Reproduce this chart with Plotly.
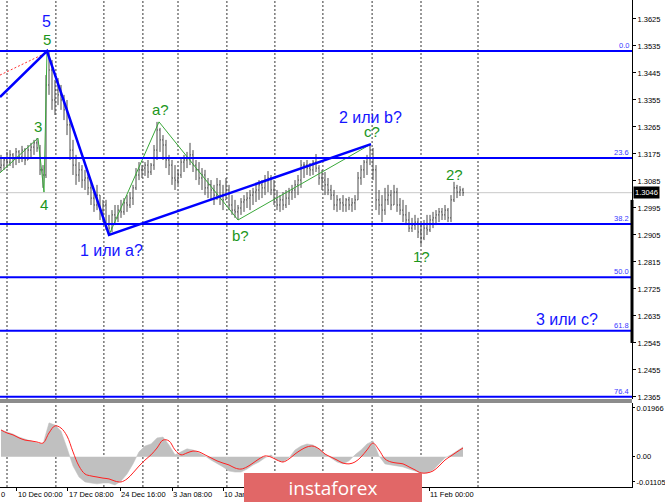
import plotly.graph_objects as go

# ---------------- price bars (one bar per slot) ----------------
bar_high = [1.3172, 1.3165, 1.3182, 1.3188, 1.3178, 1.3195, 1.3188, 1.3202, 1.3195, 1.3205,
            1.3212, 1.3222, 1.3228, 1.3205, 1.3138, 1.3438, 1.3518, 1.3488, 1.3422, 1.3428,
            1.3405, 1.3372, 1.3355, 1.3288, 1.3222, 1.3172, 1.3148, 1.3138, 1.3122, 1.3115,
            1.3088, 1.3055, 1.3072, 1.3038, 1.3022, 1.3022, 1.2972, 1.2988, 1.3005, 1.3005,
            1.3022, 1.3028, 1.3038, 1.3048, 1.3072, 1.3128, 1.3148, 1.3138, 1.3148, 1.3155,
            1.3145, 1.3205, 1.3282, 1.3262, 1.3238, 1.3222, 1.3172, 1.3155, 1.3138, 1.3122,
            1.3162, 1.3172, 1.3182, 1.3212, 1.3188, 1.3155, 1.3148, 1.3128, 1.3122, 1.3095,
            1.3088, 1.3072, 1.3095, 1.3088, 1.3072, 1.3095, 1.3072, 1.3038, 1.3022, 1.3005,
            1.3028, 1.3038, 1.3048, 1.3055, 1.3062, 1.3072, 1.3088, 1.3088, 1.3105, 1.3118,
            1.3105, 1.3088, 1.3055, 1.3038, 1.3048, 1.3055, 1.3062, 1.3072, 1.3088, 1.3105,
            1.3155, 1.3148, 1.3155, 1.3145, 1.3155, 1.3175, 1.3138, 1.3122, 1.3115, 1.3095,
            1.3072, 1.3055, 1.3038, 1.3028, 1.3038, 1.3028, 1.3032, 1.3028, 1.3038, 1.3115,
            1.3138, 1.3155, 1.3172, 1.3208, 1.3195, 1.3138, 1.3055, 1.3038, 1.3062, 1.3072,
            1.3055, 1.3072, 1.3062, 1.3028, 1.3022, 1.3005, 1.2982, 1.2962, 1.2972, 1.2962,
            1.2938, 1.2955, 1.2972, 1.2972, 1.2982, 1.2988, 1.2995, 1.2995, 1.3005, 1.2995,
            1.3038, 1.3082, 1.3072, 1.3068, 1.3062]
bar_low = [1.3115, 1.3122, 1.3128, 1.3135, 1.3128, 1.3138, 1.3145, 1.3148, 1.3138, 1.3155,
           1.3162, 1.3172, 1.3182, 1.3105, 1.3062, 1.3095, 1.3372, 1.3322, 1.3305, 1.3338,
           1.3322, 1.3288, 1.3238, 1.3155, 1.3105, 1.3072, 1.3082, 1.3062, 1.3055, 1.3038,
           1.3005, 1.2982, 1.2988, 1.2955, 1.2948, 1.2922, 1.2905, 1.2915, 1.2938, 1.2948,
           1.2962, 1.2972, 1.2982, 1.2995, 1.3005, 1.3055, 1.3088, 1.3095, 1.3102, 1.3095,
           1.3105, 1.3122, 1.3155, 1.3182, 1.3155, 1.3128, 1.3105, 1.3072, 1.3055, 1.3072,
           1.3095, 1.3115, 1.3128, 1.3138, 1.3115, 1.3088, 1.3072, 1.3055, 1.3038, 1.3028,
           1.3022, 1.3005, 1.3022, 1.3005, 1.2988, 1.3022, 1.2988, 1.2972, 1.2962, 1.2955,
           1.2972, 1.2982, 1.2995, 1.2988, 1.3005, 1.3015, 1.3022, 1.3028, 1.3038, 1.3048,
           1.3038, 1.3005, 1.2988, 1.2982, 1.2988, 1.2995, 1.3005, 1.3022, 1.3028, 1.3038,
           1.3062, 1.3095, 1.3105, 1.3102, 1.3105, 1.3115, 1.3072, 1.3055, 1.3038, 1.3038,
           1.3022, 1.2988, 1.2982, 1.2988, 1.2982, 1.2982, 1.2988, 1.2982, 1.2988, 1.3022,
           1.3072, 1.3095, 1.3105, 1.3138, 1.3088, 1.2988, 1.2972, 1.2948, 1.2972, 1.3005,
           1.2988, 1.3005, 1.2982, 1.2972, 1.2948, 1.2938, 1.2915, 1.2915, 1.2922, 1.2895,
           1.2872, 1.2888, 1.2905, 1.2915, 1.2928, 1.2938, 1.2948, 1.2955, 1.2955, 1.2948,
           1.2948, 1.3015, 1.3028, 1.3035, 1.3035]
bar_close = [1.3138, 1.3155, 1.3148, 1.3172, 1.3162, 1.3182, 1.3165, 1.3188, 1.3155, 1.3188,
             1.3198, 1.3212, 1.3195, 1.3122, 1.3105, 1.3405, 1.3455, 1.3355, 1.3388, 1.3372,
             1.3355, 1.3322, 1.3272, 1.3188, 1.3138, 1.3105, 1.3122, 1.3088, 1.3095, 1.3062,
             1.3028, 1.3005, 1.3038, 1.2988, 1.3005, 1.2938, 1.2928, 1.2972, 1.2962, 1.2988,
             1.2982, 1.3012, 1.3005, 1.3028, 1.3062, 1.3105, 1.3122, 1.3128, 1.3138, 1.3115,
             1.3138, 1.3188, 1.3255, 1.3222, 1.3205, 1.3155, 1.3138, 1.3095, 1.3088, 1.3105,
             1.3148, 1.3155, 1.3162, 1.3172, 1.3138, 1.3122, 1.3095, 1.3105, 1.3062, 1.3072,
             1.3055, 1.3038, 1.3072, 1.3038, 1.3022, 1.3055, 1.3005, 1.2988, 1.2982, 1.2995,
             1.3015, 1.3022, 1.3028, 1.3038, 1.3048, 1.3055, 1.3072, 1.3062, 1.3088, 1.3095,
             1.3055, 1.3022, 1.3005, 1.3022, 1.3005, 1.3028, 1.3048, 1.3055, 1.3072, 1.3088,
             1.3138, 1.3138, 1.3128, 1.3122, 1.3148, 1.3128, 1.3095, 1.3088, 1.3072, 1.3055,
             1.3038, 1.3005, 1.3022, 1.3012, 1.3005, 1.3022, 1.3005, 1.3012, 1.3022, 1.3095,
             1.3122, 1.3148, 1.3162, 1.3188, 1.3122, 1.3022, 1.3005, 1.2988, 1.3022, 1.3038,
             1.3005, 1.3048, 1.3005, 1.2988, 1.2972, 1.2955, 1.2928, 1.2938, 1.2948, 1.2915,
             1.2895, 1.2928, 1.2922, 1.2955, 1.2962, 1.2972, 1.2982, 1.2972, 1.2988, 1.2962,
             1.3022, 1.3062, 1.3048, 1.3055, 1.3046]
first_open = 1.3130
bar_open = [first_open] + bar_close[:-1]
bar_idx = list(range(len(bar_close)))

# ---------------- oscillator (every second slot) ----------------
osc_idx = list(range(0, 155, 2))
osc_hist = [0.0098, 0.0091, 0.0083, 0.0072, 0.0065, 0.0058, 0.0050, 0.0047, 0.0124, 0.0116,
            0.0094, 0.0032, -0.0034, -0.0074, -0.0092, -0.0096, -0.0099, -0.0096, -0.0096, -0.0103,
            -0.0089, -0.0063, -0.0026, 0.0018, 0.0039, 0.0047, 0.0069, 0.0072, 0.0043, 0.0007,
            0.0018, 0.0029, 0.0025, 0.0014, 0.0003, -0.0012, -0.0023, -0.0037, -0.0052, -0.0056,
            -0.0056, -0.0045, -0.0030, -0.0019, -0.0004, 0.0007, -0.0012, -0.0019, -0.0004, 0.0025,
            0.0039, 0.0047, 0.0043, 0.0029, 0.0010, -0.0004, -0.0019, -0.0026, -0.0015, 0.0007,
            0.0025, 0.0047, 0.0058, 0.0003, -0.0026, -0.0030, -0.0034, -0.0037, -0.0045, -0.0052,
            -0.0059, -0.0059, -0.0048, -0.0026, -0.0004, 0.0007, 0.0021, 0.0036]
osc_signal = [0.0098, 0.0087, 0.0080, 0.0069, 0.0061, 0.0058, 0.0054, 0.0050, 0.0087, 0.0113,
              0.0105, 0.0076, 0.0018, -0.0034, -0.0063, -0.0070, -0.0074, -0.0078, -0.0081, -0.0089,
              -0.0092, -0.0081, -0.0059, -0.0034, -0.0012, 0.0007, 0.0032, 0.0061, 0.0058, 0.0025,
              0.0007, 0.0014, 0.0021, 0.0018, 0.0007, -0.0004, -0.0015, -0.0023, -0.0030, -0.0041,
              -0.0045, -0.0037, -0.0023, -0.0008, 0.0003, -0.0001, -0.0012, -0.0019, -0.0008, 0.0010,
              0.0025, 0.0036, 0.0039, 0.0029, 0.0010, -0.0001, -0.0012, -0.0023, -0.0026, -0.0019,
              -0.0001, 0.0025, 0.0050, 0.0025, -0.0008, -0.0019, -0.0023, -0.0026, -0.0037, -0.0048,
              -0.0059, -0.0059, -0.0052, -0.0034, -0.0012, 0.0003, 0.0018, 0.0032]
osc_range = [-0.01105, 0.01966]
osc_tick_vals = [0.01784, 0.0, -0.00921]
osc_tick_text = ["0.01966", "0.00", "-0.01105"]

# ---------------- axes ----------------
price_ticks = [1.3625, 1.3535, 1.3445, 1.3355, 1.3265, 1.3175, 1.3085, 1.2995,
               1.2905, 1.2815, 1.2725, 1.2635, 1.2545, 1.2455, 1.2365]
price_range = [1.23583, 1.36883]
time_tick_idx = [5.3, 22.3, 39.7, 57, 74, 91.3, 108.3, 125.7, 142.7]
time_tick_text = ["10 Dec 00:00", "17 Dec 08:00", "24 Dec 16:00", "3 Jan 08:00", "10 Jan 16:00",
                  "18 Jan 00:00", "25 Jan 08:00", "1 Feb 16:00", "11 Feb 00:00"]
grid_idx = [2, 18.3, 34.3, 47.3, 59, 75.3, 91.3, 107.3, 123.7, 140, 159]

# ---------------- Fibonacci levels ----------------
fib_names = ["0.0", "23.6", "38.2", "50.0", "61.8", "76.4"]
fib_prices = [1.3518, 1.3162, 1.2942, 1.2764, 1.2586, 1.2366]

# ---------------- wave markup ----------------
blue_wave_x = [-0.33, 15.33, 36, 123.33]
blue_wave_y = [1.3365, 1.3518, 1.2905, 1.3208]
green_wave1_x = [-0.33, 12.33, 14.33, 15.33]
green_wave1_y = [1.3112, 1.3228, 1.3048, 1.3518]
green_wave2_x = [36, 52.67, 79, 123.33]
green_wave2_y = [1.2905, 1.3282, 1.2955, 1.3208]
red_dot_x = [-0.33, 15]
red_dot_y = [1.3438, 1.3512]

blue_labels = ["5", "1 или a?", "2 или b?", "3 или c?"]
blue_label_x = [15.33, 36.67, 123, 188.67]
blue_label_y = [1.3615, 1.2852, 1.3298, 1.2622]
green_labels = ["5", "3", "4", "a?", "b?", "c?", "1?", "2?"]
green_label_x = [15.33, 12.33, 14.33, 53, 79.67, 123.67, 140.33, 151]
green_label_y = [1.3555, 1.3265, 1.3008, 1.3322, 1.2902, 1.3250, 1.2832, 1.3108]

# ---------------- figure ----------------
BLUE = "#0000ff"
GREEN_LINE = "#3aa83a"
GREEN_TXT = "#1c961c"
FONT = "Liberation Sans"
MAIN_DOM = [0.1807, 1.0]
OSC_DOM = [0.0, 0.1725]

fig = go.Figure()

fig.add_trace(go.Ohlc(
    x=bar_idx, open=bar_open, high=bar_high, low=bar_low, close=bar_close,
    increasing=dict(line=dict(color="#484848", width=1)),
    decreasing=dict(line=dict(color="#484848", width=1)),
    tickwidth=0.3, hoverinfo="skip", showlegend=False, xaxis="x", yaxis="y"))

fig.add_trace(go.Scatter(x=red_dot_x, y=red_dot_y, mode="lines",
                         line=dict(color="#ff3030", width=1, dash="2px,2px"),
                         hoverinfo="skip", showlegend=False))
fig.add_trace(go.Scatter(x=green_wave1_x, y=green_wave1_y, mode="lines",
                         line=dict(color=GREEN_LINE, width=1), hoverinfo="skip", showlegend=False))
fig.add_trace(go.Scatter(x=green_wave2_x, y=green_wave2_y, mode="lines",
                         line=dict(color=GREEN_LINE, width=1), hoverinfo="skip", showlegend=False))
fig.add_trace(go.Scatter(x=blue_wave_x, y=blue_wave_y, mode="lines",
                         line=dict(color=BLUE, width=2.5), hoverinfo="skip", showlegend=False))

fig.add_trace(go.Scatter(x=osc_idx, y=osc_hist, mode="lines", fill="tozeroy",
                         fillcolor="#c0c0c0", line=dict(color="#c0c0c0", width=0.5),
                         hoverinfo="skip", showlegend=False, xaxis="x", yaxis="y2"))
fig.add_trace(go.Scatter(x=osc_idx, y=osc_signal, mode="lines",
                         line=dict(color="#ff2020", width=1, shape="spline"),
                         hoverinfo="skip", showlegend=False, xaxis="x", yaxis="y2"))

shapes = []
for gx in grid_idx:
    shapes.append(dict(type="line", xref="x", yref="paper", x0=gx, x1=gx, y0=0, y1=1,
                       line=dict(color="#333333", width=1, dash="2px,2px"), layer="below"))
shapes.append(dict(type="line", xref="paper", yref="y", x0=0, x1=1,
                   y0=bar_close[-1], y1=bar_close[-1],
                   line=dict(color="#c8c8c8", width=1), layer="below"))
for p in fib_prices:
    shapes.append(dict(type="line", xref="paper", yref="y", x0=0, x1=1, y0=p, y1=p,
                       line=dict(color=BLUE, width=2)))
# panel separator
shapes.append(dict(type="rect", xref="paper", yref="paper", x0=0, x1=1.0,
                   y0=OSC_DOM[1], y1=MAIN_DOM[0], fillcolor="#8c8c8c", line=dict(width=0)))
# thick segment on the price scale
shapes.append(dict(type="line", xref="paper", yref="y", x0=1, x1=1, y0=1.3022, y1=1.2545,
                   line=dict(color="black", width=3)))

annotations = []
# time labels (left-aligned at their tick, MT4 style)
for t, x in zip(time_tick_text, time_tick_idx):
    annotations.append(dict(x=x, xref="x", y=0, yref="paper", text=t, showarrow=False,
                            xanchor="left", yanchor="top", xshift=-1, yshift=-1,
                            font=dict(family=FONT, size=7.5, color="black")))
annotations.append(dict(x=0, xref="paper", y=0, yref="paper", text="0", showarrow=False,
                        xanchor="left", yanchor="top", xshift=-1, yshift=-1,
                        font=dict(family=FONT, size=7.5, color="black")))
for name, p in zip(fib_names, fib_prices):
    annotations.append(dict(x=1, xref="paper", y=p, yref="y", text=name, showarrow=False,
                            xanchor="right", yanchor="bottom", xshift=-1, yshift=-1,
                            font=dict(family=FONT, size=7.5, color="#3a3aff")))
for t, x, y in zip(blue_labels, blue_label_x, blue_label_y):
    annotations.append(dict(x=x, y=y, xref="x", yref="y", text=t, showarrow=False,
                            font=dict(family=FONT, size=16, color="#1414ff")))
for t, x, y in zip(green_labels, green_label_x, green_label_y):
    annotations.append(dict(x=x, y=y, xref="x", yref="y", text=t, showarrow=False,
                            font=dict(family=FONT, size=15, color=GREEN_TXT)))
annotations.append(dict(x=1, xref="paper", y=bar_close[-1], yref="y",
                        text=f"{bar_close[-1]:.4f}", showarrow=False, xanchor="left", xshift=1,
                        bgcolor="black", borderpad=1,
                        font=dict(family=FONT, size=7.5, color="white")))
# watermark logo on top of everything
annotations.append(dict(x=333/632, xref="paper", y=-0.5/487, yref="paper", text="instaforex",
                        showarrow=False, xanchor="center", yanchor="middle",
                        width=176, height=27, borderpad=1,
                        bgcolor="#e16767", bordercolor="#d86060", borderwidth=0,
                        font=dict(family="Open Sans", size=19, color="white")))

fig.update_layout(
    template="none",
    width=665, height=504,
    margin=dict(l=0, r=33, t=0, b=17),
    paper_bgcolor="white", plot_bgcolor="white",
    showlegend=False,
    shapes=shapes,
    annotations=annotations,
    xaxis=dict(range=[-1/3, 631/3], anchor="y2", showgrid=False, zeroline=False,
               showline=True, linecolor="black", linewidth=1,
               tickmode="array", tickvals=time_tick_idx, showticklabels=False,
               ticks="outside", ticklen=3, tickcolor="black",
               rangeslider=dict(visible=False), fixedrange=True),
    yaxis=dict(domain=MAIN_DOM, range=price_range, side="right", anchor="x",
               showgrid=False, zeroline=False, showline=True, linecolor="black", linewidth=1,
               tickmode="array", tickvals=price_ticks, ticktext=[f"{v:.4f}" for v in price_ticks],
               ticks="outside", ticklen=3, tickcolor="black",
               tickfont=dict(family=FONT, size=7.5, color="black")),
    yaxis2=dict(domain=OSC_DOM, range=osc_range, side="right", anchor="x",
                showgrid=False, zeroline=False, showline=True, linecolor="black", linewidth=1,
                tickmode="array", tickvals=osc_tick_vals, ticktext=osc_tick_text,
                ticks="outside", ticklen=2, tickcolor="black",
                tickfont=dict(family=FONT, size=7.5, color="black")),
)

fig.write_html("out.html", config={"displayModeBar": False},
               post_script="document.body.style.margin='0px';document.body.style.overflow='hidden';")
